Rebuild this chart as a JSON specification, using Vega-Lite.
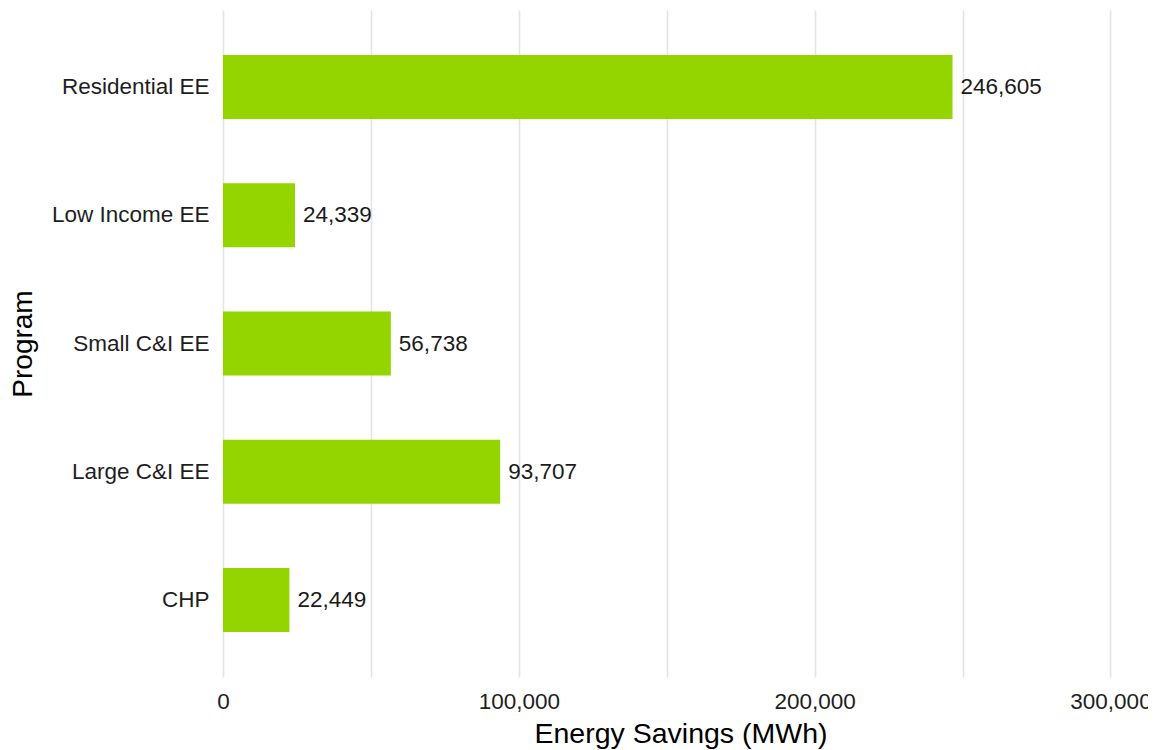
{
  "$schema": "https://vega.github.io/schema/vega-lite/v6.json",
  "autosize": {"type": "none"},
  "padding": {"left": 223, "top": 10, "right": 10, "bottom": 73},
  "width": 915,
  "height": 667,
  "background": "white",
  "data": {"values": [
    {"program": "Residential EE", "savings": 246605},
    {"program": "Low Income EE", "savings": 24339},
    {"program": "Small C&I EE", "savings": 56738},
    {"program": "Large C&I EE", "savings": 93707},
    {"program": "CHP", "savings": 22449}
  ]},
  "config": {
    "view": {"stroke": null},
    "font": "Liberation Sans",
    "axis": {"labelFont": "Liberation Sans", "titleFont": "Liberation Sans", "titleFontWeight": "normal"}
  },
  "encoding": {
    "y": {
      "field": "program", "type": "nominal",
      "sort": ["Residential EE", "Low Income EE", "Small C&I EE", "Large C&I EE", "CHP"],
      "scale": {"paddingInner": 0.5, "paddingOuter": 0.35},
      "axis": {
        "title": "Program", "titleFontSize": 28, "titleColor": "#000000",
        "titleAngle": -90, "titleAlign": "center", "titleBaseline": "alphabetic",
        "titleX": -192, "titleY": 333.5,
        "labelFontSize": 22.5, "labelColor": "#1e1e1e", "labelPadding": 14,
        "ticks": false, "tickSize": 0, "domain": false, "grid": false
      }
    },
    "x": {
      "field": "savings", "type": "quantitative",
      "scale": {"domain": [0, 309300], "nice": false, "zero": true},
      "axis": {
        "title": "Energy Savings (MWh)", "titleFontSize": 28.5, "titleColor": "#000000",
        "titleAlign": "center", "titleBaseline": "alphabetic", "titleX": 457.5, "titleY": 65,
        "values": [0, 50000, 100000, 150000, 200000, 250000, 300000],
        "labelExpr": "datum.value % 100000 === 0 ? format(datum.value, ',') : ''",
        "labelFontSize": 22.5, "labelColor": "#1e1e1e", "labelBaseline": "alphabetic",
        "labelPadding": 31, "labelFlush": false, "labelOverlap": false,
        "ticks": false, "tickSize": 0, "domain": false,
        "grid": true, "gridColor": "#e4e4e4", "gridWidth": 1.6
      }
    }
  },
  "layer": [
    {"mark": {"type": "bar", "color": "#94d500"}},
    {
      "mark": {"type": "text", "align": "left", "baseline": "middle", "dx": 8, "fontSize": 22.5, "color": "#1a1a1a", "font": "Liberation Sans"},
      "encoding": {"text": {"field": "savings", "type": "quantitative", "format": ","}}
    }
  ]
}
